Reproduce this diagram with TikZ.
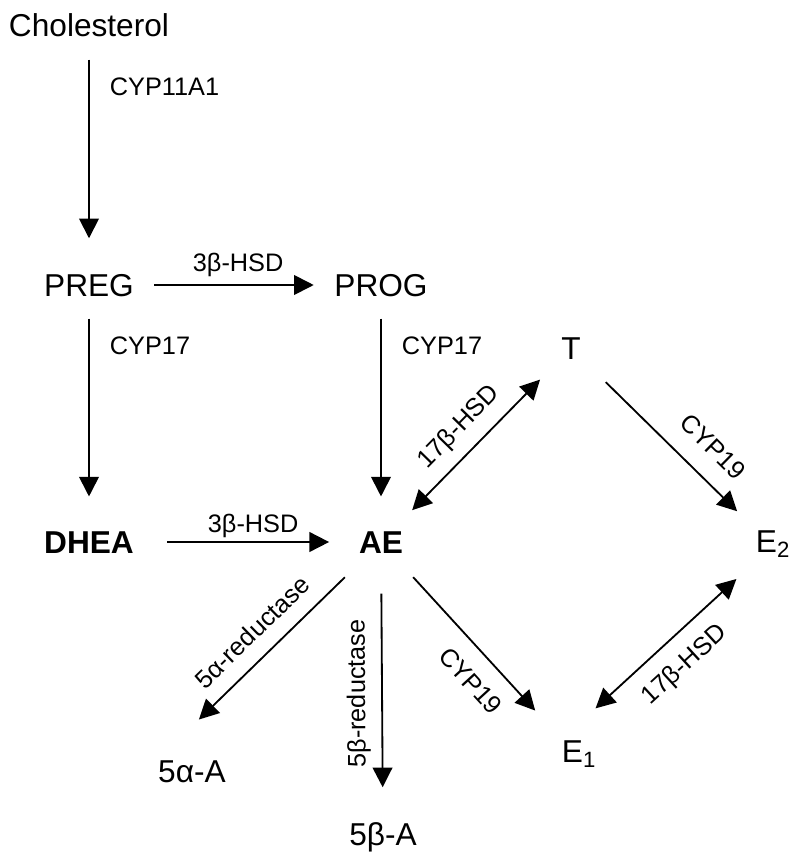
\documentclass[tikz,border=0pt]{standalone}
\usepackage{fontspec}
\setmainfont{Liberation Sans}
\usetikzlibrary{
  positioning,
  arrows.meta
}

\begin{document}
\begin{tikzpicture}[x=0.025cm, y=-0.025cm,
    met/.style={font=\fontsize{22.5}{26}\selectfont, inner sep=0pt, text height=16pt, text depth=0pt},
    metb/.style={met, font=\fontsize{22.5}{26}\selectfont\bfseries},
    enz/.style={font=\fontsize{18}{21}\selectfont, inner sep=0pt, text height=12.9pt, text depth=0pt},
    arr/.style={line width=1.3pt, -{Triangle[length=14pt, width=14pt]}},
    rarr/.style={line width=1.3pt, {Triangle[length=14pt, width=14pt]}-},
    darr/.style={line width=1.3pt, {Triangle[length=14pt, width=14pt]}-{Triangle[length=14pt, width=14pt]}}]

      \useasboundingbox (0,0) rectangle (800,863);

      % Metabolites
      \node[met] (chol) at (89,25) {Cholesterol};
      \node[met] (preg) at (89,285) {PREG};
      \node[met] (prog) at (381,285) {PROG};
      \node[metb] (dhea) at (89,542) {DHEA};
      \node[metb] (ae) at (381,542) {AE};
      \node[met] (t) at (571,348) {T};
      \node[met] (e2) at (773,541) {E\textsubscript{2}};
      \node[met] (e1) at (579,751) {E\textsubscript{1}};
      \node[met] (a5) at (192,771) {5α-A};
      \node[met] (b5) at (383,834) {5β-A};

      % Side chain cleavage and Delta-5 / Delta-4 steps
      \draw[arr, shorten <=0.58cm, shorten >=0.88cm] (chol) -- node[enz, pos=0.21, right=0.5cm] {CYP11A1} (preg);
      \draw[arr, shorten <=0.5cm, shorten >=0.51cm] (preg) -- node[enz, pos=0.52, above=0.32cm] {3β-HSD} (prog);
      \draw[arr, shorten <=0.55cm, shorten >=0.85cm] (preg) -- node[enz, pos=0.21, right=0.5cm] {CYP17} (dhea);
      \draw[arr, shorten <=0.55cm, shorten >=0.85cm] (prog) -- node[enz, pos=0.21, right=0.5cm] {CYP17} (ae);
      \draw[arr, shorten <=0.83cm, shorten >=0.74cm] (dhea) -- node[enz, pos=0.53, above=0.22cm] {3β-HSD} (ae);

      % Androgens and estrogens
      \draw[darr, shorten <=0.71cm, shorten >=0.75cm] (ae) -- node[enz, midway, sloped, above=0.42cm] {17β-HSD} (t);
      \draw[arr, shorten <=0.87cm, shorten >=0.65cm] (t) -- node[enz, pos=0.64, sloped, above=0.49cm] {CYP19} (e2.north west);
      \draw[arr, shorten <=0.8cm, shorten >=0.98cm] (ae) -- node[enz, pos=0.585, sloped, below=0.43cm] {CYP19} (e1.north west);
      \draw[darr, shorten <=1.15cm, shorten >=1.83cm] (e1.north west) -- node[enz, pos=0.455, sloped, below=0.4cm] {17β-HSD} (e2.north east);

      % Reductases
      \draw[arr, shorten <=0.85cm, shorten >=1.43cm] (ae) -- node[enz, pos=0.47, sloped, above=0.39cm] {5α-reductase} (a5.north west);
      \draw[rarr, shorten <=0.88cm, shorten >=1cm] (b5) -- node[enz, pos=0.48, sloped, allow upside down, above=0.4cm] {5β-reductase} (ae);
\end{tikzpicture}
\end{document}
